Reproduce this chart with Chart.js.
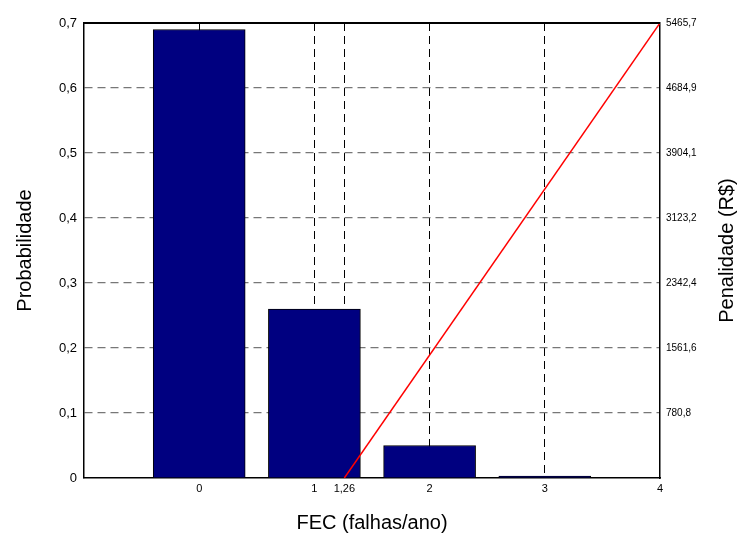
<!DOCTYPE html>
<html>
<head>
<meta charset="utf-8">
<script src="https://cdn.jsdelivr.net/npm/chart.js@4.4.0/dist/chart.umd.min.js"></script>
<style>
  html, body { margin: 0; padding: 0; background: #fff; }
  #wrap { width: 739px; height: 539px; }
</style>
</head>
<body>
<div id="wrap"><canvas id="chart" width="739" height="539"></canvas></div>
<script>
const fecValues = [0, 1, 2, 3];
const probabilidades = [0.69, 0.26, 0.05, 0.003];
const penalidadeX = [1.26, 4];
const penalidadeY = [0, 5465.7];
const xTicks = [0, 1, 1.26, 2, 3, 4];
const yTicks = [0, 0.1, 0.2, 0.3, 0.4, 0.5, 0.6, 0.7];
const y2Ticks = [780.8, 1561.6, 2342.4, 3123.2, 3904.1, 4684.9, 5465.7];

const fontFamily = '"Liberation Sans", Arial, sans-serif';

function virgula(v, casas) {
    return (casas === undefined ? String(v) : v.toFixed(casas)).replace('.', ',');
}

// moldura de cima e titulo do eixo direito (lido de baixo para cima)
const molduraPlugin = {
    id: 'moldura',
    afterDatasetsDraw(chart) {
        const { ctx, chartArea } = chart;
        ctx.save();
        ctx.strokeStyle = '#000';
        ctx.lineWidth = 2;
        ctx.beginPath();
        ctx.moveTo(chartArea.left, chartArea.top);
        ctx.lineTo(chartArea.right, chartArea.top);
        ctx.stroke();

        ctx.translate(727, (chartArea.top + chartArea.bottom) / 2);
        ctx.rotate(-Math.PI / 2);
        ctx.fillStyle = '#000';
        ctx.font = '20px ' + fontFamily;
        ctx.textAlign = 'center';
        ctx.textBaseline = 'middle';
        ctx.fillText('Penalidade (R$)', 0, 0);
        ctx.restore();
    }
};

const ctx = document.getElementById('chart').getContext('2d');

new Chart(ctx, {
    data: {
        datasets: [
            {
                type: 'line',
                label: 'Penalidade',
                data: penalidadeX.map((x, i) => ({ x: x, y: penalidadeY[i] })),
                yAxisID: 'y2',
                borderColor: '#ff0000',
                borderWidth: 1.5,
                pointRadius: 0,
                fill: false,
                order: 0
            },
            {
                type: 'bar',
                label: 'Probabilidade',
                data: fecValues.map((x, i) => ({ x: x, y: probabilidades[i] })),
                yAxisID: 'y',
                backgroundColor: '#000080',
                borderColor: '#000',
                borderWidth: 1,
                barThickness: 92,
                order: 1
            }
        ]
    },
    options: {
        animation: false,
        responsive: false,
        layout: { padding: { top: 23, left: 0, right: 0, bottom: 0 } },
        plugins: { legend: { display: false }, tooltip: { enabled: false } },
        scales: {
            x: {
                type: 'linear',
                min: -1,
                max: 4,
                offset: false,
                afterFit: s => { s.height = 61; },
                afterBuildTicks: s => { s.ticks = xTicks.map(v => ({ value: v })); },
                ticks: {
                    color: '#000',
                    font: { family: fontFamily, size: 11 },
                    padding: 4,
                    maxRotation: 0,
                    autoSkip: false,
                    callback: v => virgula(v)
                },
                grid: {
                    offset: false,
                    drawTicks: false,
                    color: ctx => ctx.tick && ctx.tick.value === 4 ? 'rgba(0,0,0,0)' : '#000',
                    lineWidth: 1
                },
                border: { display: true, color: '#000', width: 1.5, dash: [8, 5] },
                title: {
                    display: true,
                    text: 'FEC (falhas/ano)',
                    color: '#000',
                    font: { family: fontFamily, size: 20 },
                    padding: { top: 0, bottom: 4 }
                }
            },
            y: {
                type: 'linear',
                position: 'left',
                min: 0,
                max: 0.7,
                afterFit: s => { s.width = 84; },
                afterBuildTicks: s => { s.ticks = yTicks.map(v => ({ value: v })); },
                ticks: {
                    color: '#000',
                    font: { family: fontFamily, size: 13 },
                    padding: 7,
                    callback: v => virgula(v, v === 0 ? undefined : 1)
                },
                grid: {
                    drawTicks: false,
                    color: ctx => {
                        const v = ctx.tick ? ctx.tick.value : 0;
                        return (v === 0 || v === 0.7) ? 'rgba(0,0,0,0)' : '#777';
                    },
                    lineWidth: 1.2
                },
                border: { display: true, color: '#000', width: 1.5, dash: [8, 5] },
                title: {
                    display: true,
                    text: 'Probabilidade',
                    color: '#000',
                    font: { family: fontFamily, size: 20 },
                    padding: { top: 13, bottom: 0 }
                }
            },
            y2: {
                type: 'linear',
                position: 'right',
                min: 0,
                max: 5465.7,
                afterFit: s => { s.width = 79; },
                afterBuildTicks: s => { s.ticks = y2Ticks.map(v => ({ value: v })); },
                ticks: {
                    color: '#000',
                    font: { family: fontFamily, size: 10 },
                    padding: 6,
                    callback: v => virgula(v, 1)
                },
                grid: { display: false, drawTicks: false },
                border: { display: true, color: '#000', width: 1.5 }
            }
        }
    },
    plugins: [molduraPlugin]
});
</script>
</body>
</html>
